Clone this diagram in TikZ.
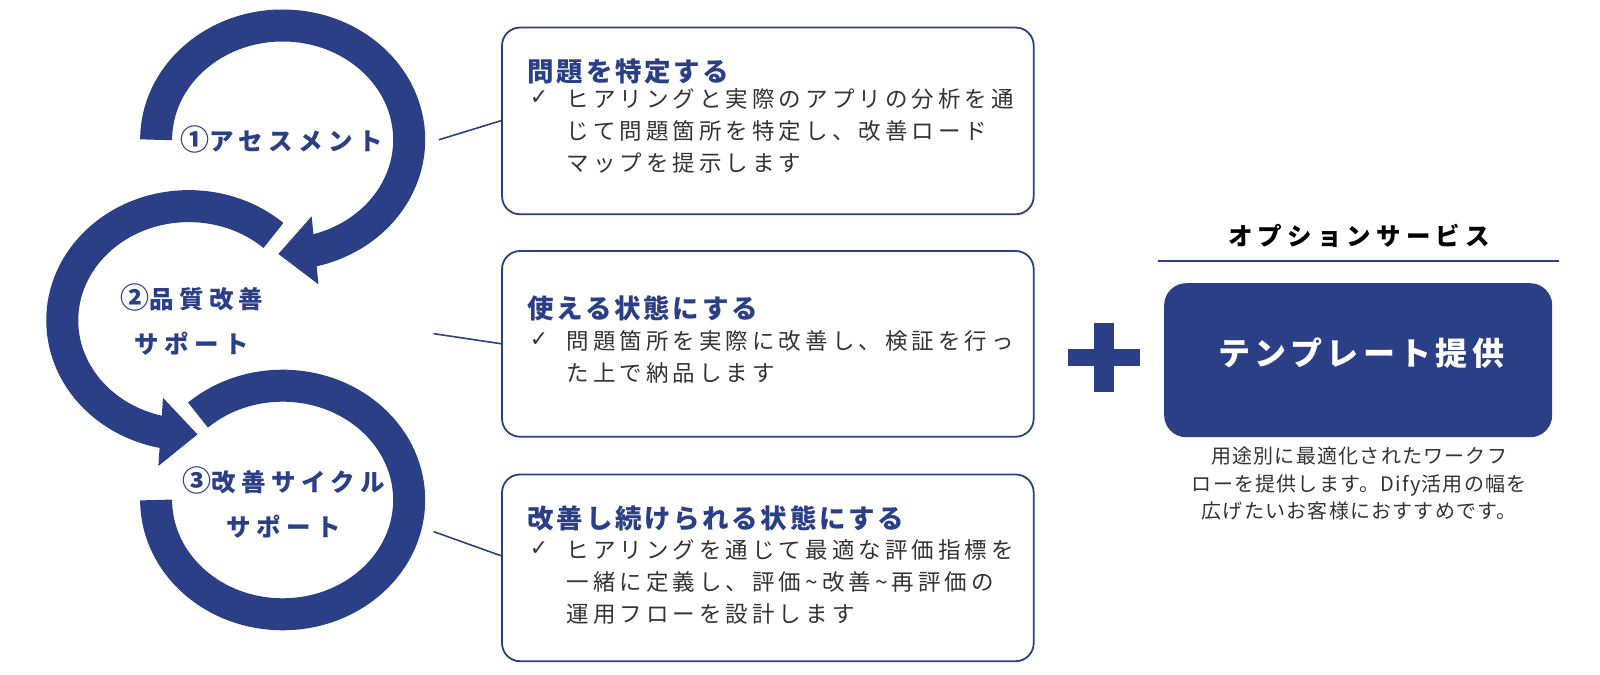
\documentclass[tikz,border=0pt]{standalone}
\usepackage{fontspec}
\setmainfont{Noto Sans CJK JP}
\newfontfamily\symf{DejaVu Sans}
\usetikzlibrary{arrows.meta,bending}
\definecolor{navy}{HTML}{2B3F87}
\definecolor{txt}{HTML}{333333}
\newcommand{\numcirc}[1]{{\fontsize{29}{29}\selectfont #1}}
\tikzset{
  band/.style={draw=navy,line width=32pt},
  arr/.style={-{Triangle[length=37pt,width=66pt,flex]}},
  card/.style={draw=navy,line width=1.8pt,rounded corners=18pt},
  ttl/.style={anchor=west,text=navy,font=\fontsize{26.5}{30}\selectfont\bfseries\addfontfeature{LetterSpace=10},inner sep=0},
  body/.style={anchor=north west,text=txt,align=left,inner sep=0,font=\fontsize{22.5}{31.6}\selectfont\addfontfeature{LetterSpace=18}},
  chk/.style={anchor=north west,text=txt,inner sep=0,font=\fontsize{22}{31.6}\selectfont\symf\bfseries},
  lbl/.style={text=navy,align=center,inner sep=0,font=\fontsize{24.5}{45}\selectfont\bfseries\addfontfeature{LetterSpace=22}},
  conn/.style={draw=navy,line width=1.6pt}
}
\begin{document}
\begin{tikzpicture}[x=1.0204pt,y=1.0204pt]
\useasboundingbox (0,13.5) rectangle (1568,675);
% arcs
\draw[band] (277,185)++(132:124 and 112) coordinate (s3) arc[start angle=132,end angle=-180,x radius=124,y radius=112];
\draw[band,arr] (185,361)++(48:124 and 112) coordinate (s2) arc[start angle=48,end angle=274,x radius=124,y radius=112];
\draw[band,arr] (277,538)++(180:124 and 112) coordinate (s1) arc[start angle=180,end angle=-92,x radius=124,y radius=112];
% labels
\node[lbl] (l1) at (276,538) {\numcirc{①}アセスメント};
\node[lbl] (l2) at (188,362) {\numcirc{②}品質改善\\サポート};
\node[lbl] (l3) at (278,183) {\numcirc{③}改善サイクル\\サポート};
% cards
\draw[card] (492,648) rectangle (1013,465);
\draw[card] (492,429) rectangle (1013,247);
\draw[card] (492,210) rectangle (1013,27);
\coordinate (c1) at (492,557); \coordinate (c2) at (492,338); \coordinate (c3) at (492,130);
\coordinate (e1) at (430,538); \coordinate (e2) at (425,348); \coordinate (e3) at (425,154);
\draw[conn] (e1) -- (c1); \draw[conn] (e2) -- (c2); \draw[conn] (e3) -- (c3);
% card 1
\node[ttl] (t1) at (517,605) {問題を特定する};
\node[chk] (k1) at (519,586) {✓};
\node[body] (b1) at (555,588) {ヒアリングと実際のアプリの分析を通\\じて問題箇所を特定し、改善ロード\\マップを提示します};
% card 2
\node[ttl] (t2) at (517,373) {使える状態にする};
\node[chk] (k2) at (519,349) {✓};
\node[body] (b2) at (555,351) {問題箇所を実際に改善し、検証を行っ\\た上で納品します};
% card 3
\node[ttl] (t3) at (517,167) {改善し続けられる状態にする};
\node[chk] (k3) at (519,144) {✓};
\node[body] (b3) at (555,146) {ヒアリングを通じて最適な評価指標を\\一緒に定義し、評価\textasciitilde 改善\textasciitilde 再評価の\\運用フローを設計します};
% plus
\fill[navy] (1047,316) rectangle (1117,333);
\fill[navy] (1072,291) rectangle (1092,358);
% option
\node[inner sep=0,font=\fontsize{24.5}{28}\selectfont\bfseries\addfontfeature{LetterSpace=21}] (oh) at (1332,444) {オプションサービス};
\draw[navy,line width=2.5pt] (1135,419) -- (1528,419);
\node[fill=navy,rounded corners=22pt,minimum width=388pt,minimum height=154pt,inner sep=0] (tb) at (1331,322) {};
\node[text=white,inner sep=0,font=\fontsize{32}{36}\selectfont\bfseries\addfontfeature{LetterSpace=14}] (tt) at (1334,329) {テンプレート提供};
\node[text=txt,align=center,inner sep=0,font=\fontsize{20}{27.5}\selectfont\addfontfeature{LetterSpace=6}] (od) at (1332,201) {用途別に最適化されたワークフ\\ローを提供します。Dify活用の幅を\\広げたいお客様におすすめです。};
\end{tikzpicture}
\end{document}
